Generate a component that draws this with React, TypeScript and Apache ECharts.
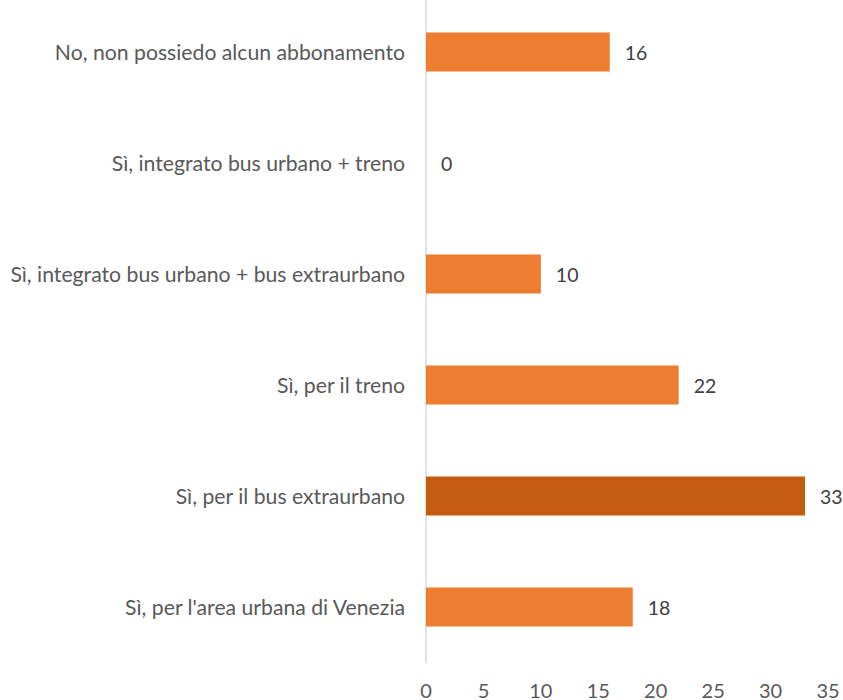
import React, { useEffect, useRef } from "react";
import * as echarts from "echarts";

const categories = [
  "Sì, per l'area urbana di Venezia",
  "Sì, per il bus extraurbano",
  "Sì, per il treno",
  "Sì, integrato bus urbano + bus extraurbano",
  "Sì, integrato bus urbano + treno",
  "No, non possiedo alcun abbonamento",
];
const values = [18, 33, 22, 10, 0, 16];
const highlighted = [false, true, false, false, false, false];
const xTicks = [0, 5, 10, 15, 20, 25, 30, 35];

const ORANGE = "#ED7D31";
const DARK = "#C55A11";
const FONT = "Lato";

export default function App() {
  const ref = useRef<HTMLDivElement>(null);
  useEffect(() => {
    if (!ref.current) return;
    const chart = echarts.init(ref.current, null, { renderer: "svg" });
    chart.setOption({
      animation: false,
      backgroundColor: "#ffffff",
      grid: { left: 426, right: 15, top: 0.5, bottom: 37.5, containLabel: false },
      xAxis: {
        type: "value",
        min: xTicks[0],
        max: xTicks[xTicks.length - 1],
        interval: 5,
        axisLine: { show: false },
        axisTick: { show: false },
        splitLine: { show: false },
        axisLabel: {
          color: "#595959",
          fontFamily: FONT,
          fontSize: 20,
          margin: 17,
        },
      },
      yAxis: {
        type: "category",
        data: categories,
        axisLine: { show: true, lineStyle: { color: "#D9D9D9", width: 1.5 } },
        axisTick: { show: false },
        axisLabel: {
          color: "#595959",
          fontFamily: FONT,
          fontSize: 21.2,
          margin: 21,
        },
      },
      series: [
        {
          type: "bar",
          barWidth: 39,
          data: values.map((v, i) => ({
            value: v,
            itemStyle: { color: highlighted[i] ? DARK : ORANGE },
          })),
          label: {
            show: true,
            position: "right",
            distance: 15,
            color: "#404040",
            fontFamily: FONT,
            fontSize: 19.5,
          },
        },
      ],
    });
    return () => chart.dispose();
  }, []);
  return (
    <div style={{ position: "absolute", left: 0, top: 0, width: 843, height: 700, overflow: "hidden" }}>
      <div
        ref={ref}
        style={{ position: "absolute", left: 0, top: -4, width: 843, height: 704 }}
      />
    </div>
  );
}
